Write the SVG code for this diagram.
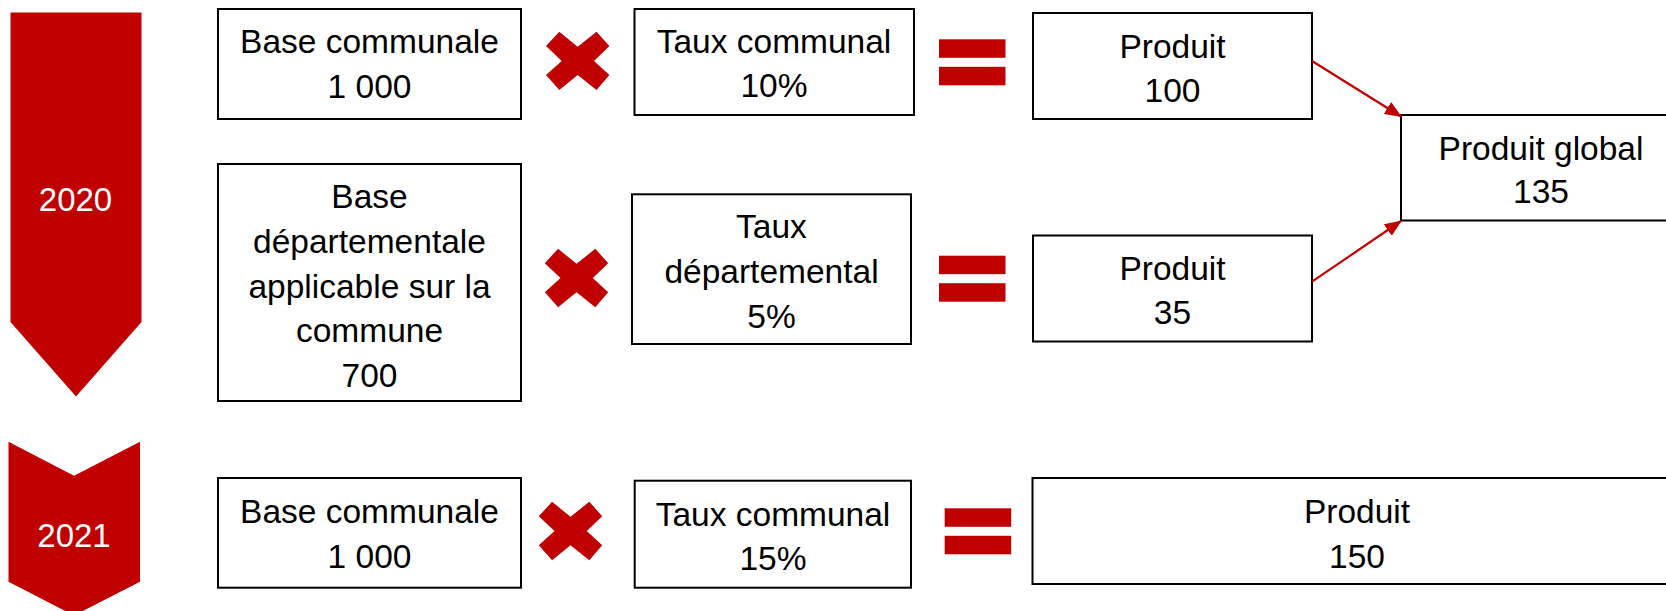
<svg xmlns="http://www.w3.org/2000/svg" width="1666" height="611" viewBox="0 0 1666 611">
<style>
.box{fill:#fff;stroke:#000;stroke-width:2}
.t{font-family:"Liberation Sans",Arial,sans-serif;font-size:33.5px;fill:#000;text-anchor:middle}
.y{font-family:"Liberation Sans",Arial,sans-serif;font-size:33px;fill:#fff;text-anchor:middle}
.red{fill:#C00000}
.conn{stroke:#C00000;stroke-width:2.2;fill:none}
</style>
<defs>
<path id="times" d="M-31.7,-14.8 L-18.4,-29.2 L0,-14.2 L18.8,-29.2 L31.7,-14.8 L16.3,0 L31.7,14.2 L18.8,29.2 L0,14.2 L-18.4,29.2 L-31.7,14.2 L-16,0 Z" fill="#C00000"/>
<g id="equals" fill="#C00000"><rect x="0" y="0" width="66.5" height="18.5"/><rect x="0" y="27.5" width="66.5" height="18.5"/></g>
<marker id="ah" markerUnits="userSpaceOnUse" markerWidth="18" markerHeight="14" refX="16" refY="7" orient="auto"><path d="M0,0 L17,7 L0,14 Z" fill="#C00000"/></marker>
</defs>

<g id="year2020">
<path class="red" d="M10.5,12.5 L141.5,12.5 L141.5,322 L76,396.5 L10.5,322 Z"/>
<text class="y" x="75.5" y="210.7">2020</text>
</g>
<g id="year2021">
<path class="red" d="M8.5,441.7 L74,475.7 L140,441.7 L140,581.7 L74,615.5 L8.5,581.7 Z"/>
<text class="y" x="74" y="547.3">2021</text>
</g>

<g id="base-communale-2020">
<rect class="box" x="218" y="9" width="303" height="110"/>
<text class="t" x="369.5" y="53.3">Base communale</text>
<text class="t" x="369.5" y="97.7">1 000</text>
</g>
<g id="times1"><use href="#times" x="577.7" y="60.9"/></g>
<g id="taux-communal-2020">
<rect class="box" x="634.5" y="9" width="279.5" height="106"/>
<text class="t" x="774" y="53.3">Taux communal</text>
<text class="t" x="774" y="97.3">10%</text>
</g>
<g id="equals1"><use href="#equals" x="939" y="39.3"/></g>
<g id="produit-100">
<rect class="box" x="1033" y="13" width="279" height="106"/>
<text class="t" x="1172.5" y="58.3">Produit</text>
<text class="t" x="1172.5" y="102.3">100</text>
</g>

<g id="base-departementale">
<rect class="box" x="218" y="164" width="303" height="237"/>
<text class="t" x="369.5" y="208.3">Base</text>
<text class="t" x="369.5" y="253.3">départementale</text>
<text class="t" x="369.5" y="297.7">applicable sur la</text>
<text class="t" x="369.5" y="342.3">commune</text>
<text class="t" x="369.5" y="386.7">700</text>
</g>
<g id="times2"><use href="#times" x="576.5" y="278"/></g>
<g id="taux-departemental">
<rect class="box" x="632" y="194.3" width="279" height="149.7"/>
<text class="t" x="771.5" y="238.3">Taux</text>
<text class="t" x="771.5" y="283.3">départemental</text>
<text class="t" x="771.5" y="328.3">5%</text>
</g>
<g id="equals2"><use href="#equals" x="939" y="255.7"/></g>
<g id="produit-35">
<rect class="box" x="1033" y="235.5" width="279" height="106"/>
<text class="t" x="1172.5" y="280">Produit</text>
<text class="t" x="1172.5" y="324">35</text>
</g>

<g id="produit-global">
<rect class="box" x="1401" y="115" width="280" height="105.5"/>
<text class="t" x="1541" y="160">Produit global</text>
<text class="t" x="1541" y="203.3">135</text>
</g>

<g id="base-communale-2021">
<rect class="box" x="218" y="478" width="303" height="109.7"/>
<text class="t" x="369.5" y="523.3">Base communale</text>
<text class="t" x="369.5" y="567.7">1 000</text>
</g>
<g id="times3"><use href="#times" x="570.5" y="531"/></g>
<g id="taux-communal-2021">
<rect class="box" x="634.7" y="480.7" width="276.3" height="107"/>
<text class="t" x="773" y="525.7">Taux communal</text>
<text class="t" x="773" y="570">15%</text>
</g>
<g id="equals3"><use href="#equals" x="944.7" y="508.3"/></g>
<g id="produit-150">
<rect class="box" x="1032.5" y="478" width="649" height="106"/>
<text class="t" x="1357" y="523.3">Produit</text>
<text class="t" x="1357" y="567.7">150</text>
</g>

<g id="connectors">
<line class="conn" x1="1312" y1="61" x2="1401" y2="116.5" marker-end="url(#ah)"/>
<line class="conn" x1="1312" y1="281.7" x2="1401" y2="221" marker-end="url(#ah)"/>
</g>
</svg>
